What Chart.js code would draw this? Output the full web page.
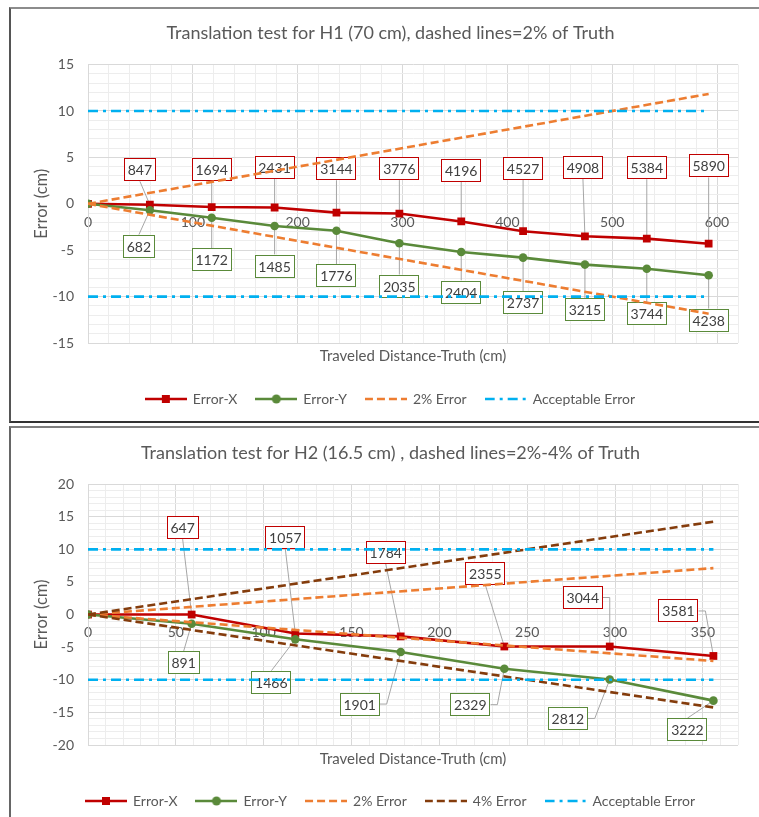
<!DOCTYPE html>
<html>
<head>
<meta charset="utf-8">
<script src="https://cdn.jsdelivr.net/npm/chart.js@4.4.1/dist/chart.umd.min.js"></script>
<style>
body { margin:0; background:#fff; overflow:hidden; width:759px; height:817px; position:relative; }
.frame { position:absolute; left:9px; width:800px; }
#frame1 { top:7px; height:412px; border-top:2px solid #8c8c8c; border-left:2px solid #555; border-bottom:2px solid #333; }
#frame2 { top:426px; height:450px; border-top:2px solid #7f7f7f; border-left:2px solid #666; }
canvas { position:absolute; left:11px; }
#c1 { top:10px; }
#c2 { top:428px; }
</style>
</head>
<body>
<div class="frame" id="frame1"></div>
<div class="frame" id="frame2"></div>
<canvas id="c1" width="748" height="410"></canvas>
<canvas id="c2" width="748" height="392"></canvas>
<script>
// H1 (70 cm) test
var dist1 = [0, 59, 118, 178, 237, 297, 356, 415, 474, 533, 592];
var errX1 = [0, -0.1, -0.35, -0.4, -0.95, -1.05, -1.9, -2.95, -3.5, -3.75, -4.3];
var errY1 = [0, -0.7, -1.5, -2.4, -2.9, -4.25, -5.2, -5.8, -6.55, -7.0, -7.7];
var tagsX1 = [847, 1694, 2431, 3144, 3776, 4196, 4527, 4908, 5384, 5890];
var tagsY1 = [682, 1172, 1485, 1776, 2035, 2404, 2737, 3215, 3744, 4238];
var limDist1 = [0, 592];
var pctHi1 = [0, 11.84];
var pctLo1 = [0, -11.84];
var accHi1 = [10, 10];
var accLo1 = [-10, -10];

// H2 (16.5 cm) test
var dist2 = [0, 59, 118, 178, 237, 297, 356];
var errX2 = [0, 0, -2.9, -3.35, -4.9, -4.9, -6.35];
var errY2 = [0, -1.4, -3.8, -5.75, -8.3, -9.95, -13.2];
var tagsX2 = [647, 1057, 1784, 2355, 3044, 3581];
var tagsY2 = [891, 1466, 1901, 2329, 2812, 3222];
var limDist2 = [0, 356];
var pct2Hi2 = [0, 7.12];
var pct2Lo2 = [0, -7.12];
var pct4Hi2 = [0, 14.24];
var pct4Lo2 = [0, -14.24];
var accHi2 = [10, 10];
var accLo2 = [-10, -10];

var RED = '#c00000', GREEN = '#5a8a3a', ORANGE = '#ed7d31', BROWN = '#843c0c', CYAN = '#00b0f0';
var DASH = [8, 4], DASHDOT = [10, 5, 3, 5];
var FONT = 'Lato';
Chart.defaults.font.family = FONT;

function pts(xs, ys) {
  return xs.map(function(x, i) { return {x: x, y: ys[i]}; });
}

function makeIcon(color, dash, marker) {
  var c = document.createElement('canvas');
  c.width = 42; c.height = 12;
  var g = c.getContext('2d');
  g.strokeStyle = color; g.lineWidth = 2.5; g.setLineDash(dash);
  g.beginPath(); g.moveTo(0, 6); g.lineTo(42, 6); g.stroke();
  g.setLineDash([]);
  g.fillStyle = color;
  if (marker === 'rect') g.fillRect(17, 2, 8, 8);
  if (marker === 'circle') { g.beginPath(); g.arc(21, 6, 4.5, 0, Math.PI * 2); g.fill(); }
  return c;
}

function seriesX(xs, ys, tags, offs) {
  return { label: 'Error-X', data: pts(xs, ys), borderColor: RED, backgroundColor: RED, borderWidth: 2.6,
    pointStyle: 'rect', pointRadius: 5.5, pointBorderWidth: 0, legendIcon: makeIcon(RED, [], 'rect'),
    boxLabels: { texts: tags, offsets: offs, color: RED } };
}
function seriesY(xs, ys, tags, offs) {
  return { label: 'Error-Y', data: pts(xs, ys), borderColor: GREEN, backgroundColor: GREEN, borderWidth: 2.6,
    pointStyle: 'circle', pointRadius: 4.3, pointBorderWidth: 0, legendIcon: makeIcon(GREEN, [], 'circle'),
    boxLabels: { texts: tags, offsets: offs, color: GREEN } };
}
function guide(label, xs, ys, color, dash, hide) {
  return { label: label, data: pts(xs, ys), borderColor: color, backgroundColor: color, borderWidth: 2.6,
    borderDash: dash, pointRadius: 0, legendHide: hide, legendIcon: makeIcon(color, dash, null) };
}

// boxed value labels with leader lines, drawn under the series lines
var boxLabelPlugin = {
  id: 'boxLabels',
  beforeDatasetsDraw: function(chart) {
    var ctx = chart.ctx;
    chart.data.datasets.forEach(function(ds, di) {
      if (!ds.boxLabels) return;
      var meta = chart.getDatasetMeta(di);
      var bl = ds.boxLabels;
      ctx.save();
      ctx.font = '14px ' + FONT;
      bl.texts.forEach(function(txt, i) {
        var pt = meta.data[i + 1];
        var cx = pt.x + bl.offsets[i][0], cy = pt.y + bl.offsets[i][1];
        var w = Math.round(ctx.measureText(String(txt)).width + 8), h = 23;
        var left = cx - w / 2, right = cx + w / 2, top = cy - h / 2, bottom = cy + h / 2;
        ctx.strokeStyle = '#a6a6a6'; ctx.lineWidth = 1;
        ctx.beginPath();
        var gap = Math.abs(pt.x - cx) - w / 2;
        if (gap > 6) {
          var dir = pt.x > cx ? 1 : -1;
          var side = dir > 0 ? right : left;
          ctx.moveTo(side, cy); ctx.lineTo(side + dir * Math.min(7, gap), cy); ctx.lineTo(pt.x, pt.y);
        } else {
          ctx.moveTo(cx, pt.y > cy ? bottom : top); ctx.lineTo(pt.x, pt.y);
        }
        ctx.stroke();
        ctx.fillStyle = '#fff';
        ctx.fillRect(left, top, w, h);
        ctx.strokeStyle = bl.color;
        ctx.strokeRect(Math.round(left) + 0.5, Math.round(top) + 0.5, w - 1, h - 1);
        ctx.fillStyle = '#404040'; ctx.textAlign = 'center'; ctx.textBaseline = 'middle';
        ctx.fillText(String(txt), cx, cy + 1);
      });
      ctx.restore();
    });
  }
};

function makeChart(id, cfg) {
  cfg.datasets.forEach(function(ds, i) { ds.order = 20 - i; });
  return new Chart(document.getElementById(id), {
    type: 'line',
    data: { datasets: cfg.datasets },
    options: {
      responsive: false,
      animation: false,
      layout: { padding: cfg.padding },
      plugins: {
        title: { display: true, text: cfg.title, color: '#595959', font: { size: 18, weight: 'normal' }, padding: cfg.titlePad },
        subtitle: { display: true, position: 'bottom', weight: 100, fullSize: false, text: 'Traveled Distance-Truth (cm)',
          color: '#595959', font: { size: 15 }, padding: cfg.xTitlePad },
        legend: {
          position: 'bottom',
          labels: {
            usePointStyle: true, pointStyleWidth: 40, padding: 19, color: '#595959', font: { size: 14 },
            filter: function(item, data) { return !data.datasets[item.datasetIndex].legendHide; },
            sort: function(a, b) { return a.datasetIndex - b.datasetIndex; },
            generateLabels: function(chart) {
              var items = Chart.defaults.plugins.legend.labels.generateLabels(chart);
              items.forEach(function(it) { it.pointStyle = chart.data.datasets[it.datasetIndex].legendIcon; });
              return items;
            }
          }
        },
        tooltip: { enabled: false }
      },
      scales: {
        x: {
          type: 'linear', position: { y: 0 }, min: 0, max: cfg.xMax,
          afterFit: function(s) { s.height = 0; },
          ticks: { stepSize: cfg.xStep, autoSkip: false, maxRotation: 0, padding: 10, color: '#595959', font: { size: 14 },
            callback: function(v) { return v % cfg.xMajor === 0 ? v : ''; } },
          grid: { drawTicks: false, color: function(c) { return c.tick && c.tick.value % cfg.xMajor === 0 ? '#d9d9d9' : '#ededed'; } },
          border: { color: '#d9d9d9' }
        },
        y: {
          min: cfg.yMin, max: cfg.yMax,
          afterFit: function(s) { s.width = 45; },
          ticks: { stepSize: 1, autoSkip: false, padding: 14, color: '#595959', font: { size: 14 },
            callback: function(v) { return v % 5 === 0 ? v : ''; } },
          title: { display: true, text: 'Error (cm)', color: '#595959', font: { size: 16.5 }, padding: { top: -11, bottom: 4 } },
          grid: { drawTicks: false, color: function(c) { return c.tick && c.tick.value % 5 === 0 ? '#d9d9d9' : '#ededed'; } },
          border: { color: '#d9d9d9' }
        }
      }
    },
    plugins: [boxLabelPlugin]
  });
}

makeChart('c1', {
  title: 'Translation test for H1 (70 cm), dashed lines=2% of Truth',
  padding: { left: 32, right: 21, top: 0, bottom: 4 },
  titlePad: { top: 12, bottom: 21 },
  xTitlePad: { top: 4, bottom: 8 },
  xMax: 620, xStep: 20, xMajor: 100, yMin: -15, yMax: 15,
  datasets: [
    seriesX(dist1, errX1, tagsX1, [[-10, -35], [0, -38], [0, -40], [0, -44], [0, -45], [0, -51], [0, -63], [-2, -69], [0, -71], [0, -78]]),
    seriesY(dist1, errY1, tagsY1, [[-11, 36], [0, 42], [0, 40], [0, 45], [0, 43], [0, 40], [0, 45], [0, 45], [0, 45], [0, 45]]),
    guide('2% Error', limDist1, pctHi1, ORANGE, DASH, false),
    guide('2% Error', limDist1, pctLo1, ORANGE, DASH, true),
    guide('Acceptable Error', limDist1, accHi1, CYAN, DASHDOT, false),
    guide('Acceptable Error', limDist1, accLo1, CYAN, DASHDOT, true)
  ]
});

makeChart('c2', {
  title: 'Translation test for H2 (16.5 cm) , dashed lines=2%-4% of Truth',
  padding: { left: 32, right: 21, top: 0, bottom: 2 },
  titlePad: { top: 14, bottom: 20.5 },
  xTitlePad: { top: 5, bottom: 7 },
  xMax: 370, xStep: 10, xMajor: 50, yMin: -20, yMax: 20,
  datasets: [
    seriesX(dist2, errX2, tagsX2, [[-9, -87], [-10, -96], [-15, -84], [-19, -73], [-27, -49], [-35, -45]]),
    seriesY(dist2, errY2, tagsY2, [[-8, 39], [-24, 43], [-41, 52], [-34, 36], [-42, 39], [-26, 29]]),
    guide('2% Error', limDist2, pct2Hi2, ORANGE, DASH, false),
    guide('2% Error', limDist2, pct2Lo2, ORANGE, DASH, true),
    guide('4% Error', limDist2, pct4Hi2, BROWN, DASH, false),
    guide('4% Error', limDist2, pct4Lo2, BROWN, DASH, true),
    guide('Acceptable Error', limDist2, accHi2, CYAN, DASHDOT, false),
    guide('Acceptable Error', limDist2, accLo2, CYAN, DASHDOT, true)
  ]
});
</script>
</body>
</html>
